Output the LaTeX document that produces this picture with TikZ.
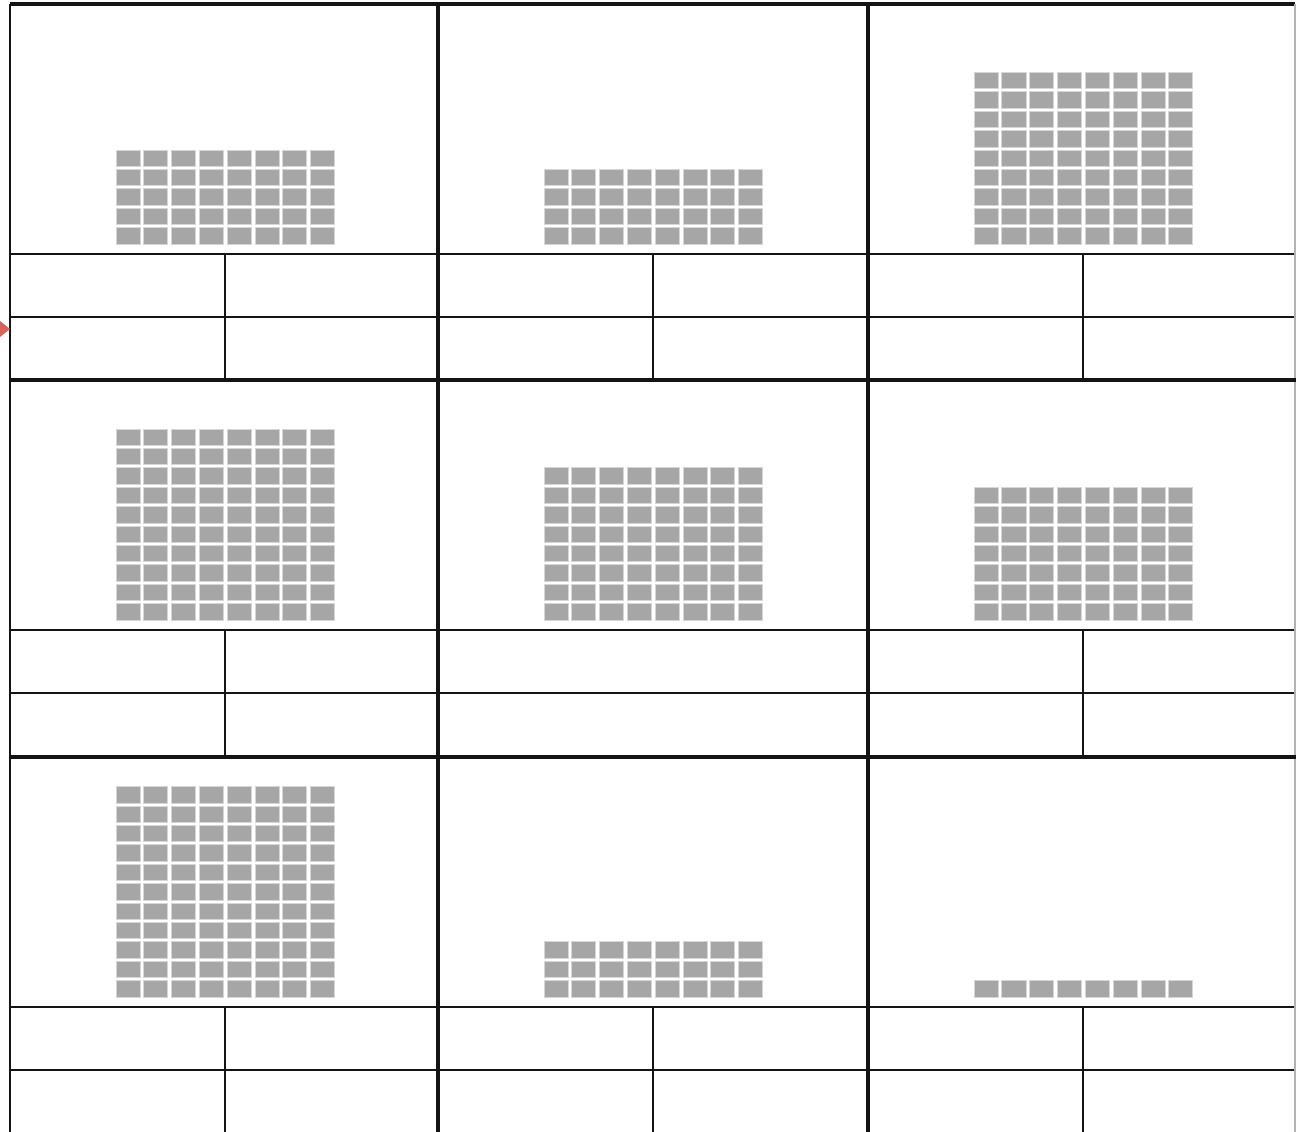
\documentclass[tikz,border=0pt]{standalone}
\usepackage{tikz}
\definecolor{blockFill}{RGB}{166,166,166}
\definecolor{blockStroke}{RGB}{214,214,214}
\definecolor{markerRed}{RGB}{214,100,90}
\colorlet{ink}{black!92}
\tikzset{
  block/.style={fill=blockFill, draw=blockStroke, line width=0.35pt},
  heavyline/.style={draw=ink, line width=1.9pt},
  splitline/.style={draw=ink, line width=1.3pt},
  thinline/.style={draw=ink, line width=0.95pt},
  edgeline/.style={draw=black!30, line width=0.7pt}
}
% #1 left x, #2 bottom y, #3 number of block rows (8 blocks each)
\newcommand{\BlockGrid}[3]{%
  \foreach \r in {1,...,#3}{
    \foreach \c in {0,...,7}{
      \filldraw[block] ({#1+\c*27.8},{#2-(\r-1)*19.4}) rectangle +(24,-16.5);
    }
  }
}

\begin{document}
\begin{tikzpicture}[x=0.02cm,y=-0.02cm]
  \useasboundingbox (0,0) rectangle (1296,1132);

  % nine panels: left x / top y / block rows / split bottom rows
  \foreach \cx/\cy/\n/\split in {10/4/5/1, 438/4/4/1, 868/4/9/1,
                                 10/380/10/1, 438/380/8/0, 868/380/7/1,
                                 10/757/11/1, 438/757/3/1, 868/757/1/1}{
    \BlockGrid{\cx+106}{\cy+240}{\n}
    \draw[thinline] (\cx,\cy+250) -- (\cx+429,\cy+250);
    \draw[thinline] (\cx,\cy+313) -- (\cx+429,\cy+313);
    \ifnum\split=1
      \draw[splitline] (\cx+215,\cy+250) -- (\cx+215,\cy+376);
    \fi
  }

  % frame and panel borders
  \draw[heavyline] (10,4) -- (1295,4);
  \draw[thinline] (10,4) -- (10,1132);
  \draw[edgeline] (1295,4) -- (1295,1132);
  \draw[heavyline] (438,4) -- (438,1132);
  \draw[heavyline] (868,4) -- (868,1132);
  \draw[heavyline] (10,380) -- (1296,380);
  \draw[heavyline] (10,757) -- (1296,757);

  % marker at the left edge
  \fill[markerRed] (0,321) -- (10,329) -- (0,337) -- cycle;
\end{tikzpicture}
\end{document}
